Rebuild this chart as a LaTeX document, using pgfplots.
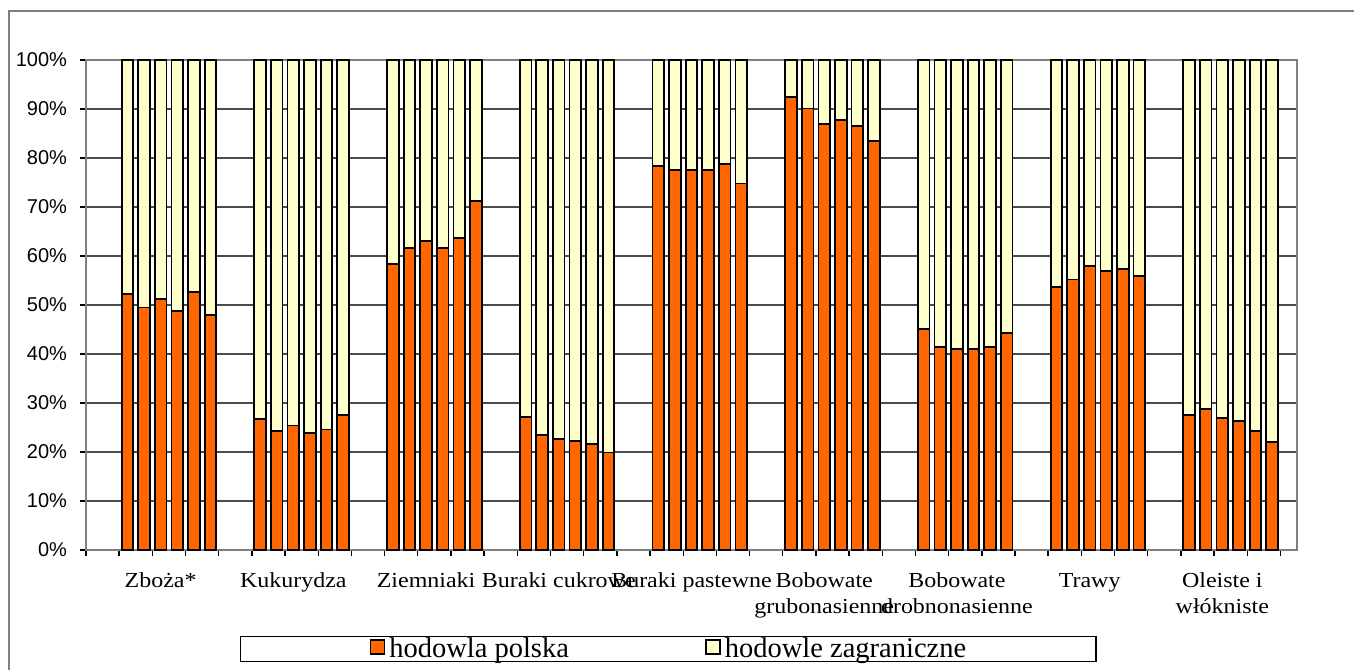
\documentclass[border=0pt]{standalone}
\usepackage{fontspec}
\setmainfont{Liberation Sans}
\newfontfamily\catfont[FakeStretch=1.12]{Liberation Serif}
\newfontfamily\legfont{Liberation Serif}
\usepackage{pgfplots}
\pgfplotsset{compat=1.18}
\usepackage{pgfplotstable}
\definecolor{pl}{HTML}{FF6600}
\definecolor{zg}{HTML}{FFFFCC}
\pgfplotsset{
  legpad/.style={legend image code/.code={\path (-64.5pt,0pt); \draw[##1, line width=0.8pt] (0pt,-2.5pt) rectangle (7pt,4.5pt);}},
  legsq/.style={legend image code/.code={\draw[##1, line width=0.8pt] (0pt,-2.5pt) rectangle (7pt,4.5pt);}},
}

\pgfplotstableread{
x pol zag
2.5 52.2 47.8
3.5 49.5 50.5
4.5 51.2 48.8
5.5 48.8 51.2
6.5 52.6 47.4
7.5 47.9 52.1
10.5 26.7 73.3
11.5 24.3 75.7
12.5 25.4 74.6
13.5 23.8 76.2
14.5 24.6 75.4
15.5 27.6 72.4
18.5 58.3 41.7
19.5 61.6 38.4
20.5 63.1 36.9
21.5 61.7 38.3
22.5 63.7 36.3
23.5 71.3 28.7
26.5 27.2 72.8
27.5 23.4 76.6
28.5 22.7 77.3
29.5 22.3 77.7
30.5 21.6 78.4
31.5 19.9 80.1
34.5 78.4 21.6
35.5 77.6 22.4
36.5 77.6 22.4
37.5 77.6 22.4
38.5 78.8 21.2
39.5 74.8 25.2
42.5 92.4 7.6
43.5 90.1 9.9
44.5 86.9 13.1
45.5 87.8 12.2
46.5 86.5 13.5
47.5 83.5 16.5
50.5 45.1 54.9
51.5 41.5 58.5
52.5 41.0 59.0
53.5 41.0 59.0
54.5 41.5 58.5
55.5 44.3 55.7
58.5 53.6 46.4
59.5 55.2 44.8
60.5 58.0 42.0
61.5 56.9 43.1
62.5 57.3 42.7
63.5 55.9 44.1
66.5 27.6 72.4
67.5 28.8 71.2
68.5 26.9 73.1
69.5 26.4 73.6
70.5 24.3 75.7
71.5 22.1 77.9
}\data

\begin{document}
\begin{tikzpicture}
\path[use as bounding box] (0,0) rectangle (677pt,335pt);
\draw[black!50, line width=1pt] (4.5pt,0) -- (4.5pt,329.5pt) -- (677pt,329.5pt);
\begin{axis}[
  at={(43pt,60pt)}, anchor=south west,
  scale only axis, width=605.5pt, height=245pt,
  xmin=0, xmax=73, ymin=0, ymax=100,
  ybar stacked, bar width=0.7,
  axis line style={black!50, line width=1pt},
  ytick={0,10,...,100},
  yticklabel={\pgfmathprintnumber{\tick}\%},
  /pgf/number format/assume math mode=true,
  yticklabel style={font=\fontsize{10}{12}\selectfont, xshift=-3pt},
  ymajorgrids, grid style={black!70, line width=0.7pt},
  major tick length=3pt, tick align=outside,
  tick style={black, line width=0.7pt},
  xtick pos=bottom, ytick pos=left,
  xtick={0,2,...,72}, xticklabels={},
  extra x ticks={4.5,12.5,20.5,28.5,36.5,44.5,52.5,60.5,68.5},
  extra x tick labels={Zboża*,Kukurydza,Ziemniaki,Buraki cukrowe,Buraki pastewne,{Bobowate\\grubonasienne},{Bobowate\\drobnonasienne},Trawy,{Oleiste i\\włókniste}},
  extra x tick style={major tick length=0pt, tick label style={font=\fontsize{10.7}{12.6}\catfont, align=center, anchor=north, yshift=-8pt}},
  legend columns=2,
  legend style={at={(axis description cs:0,0)}, anchor=north west, xshift=77pt, yshift=-43pt,
    draw=black, line width=0.6pt, inner xsep=0pt, inner ysep=0.6pt,
    font=\fontsize{14.25}{15}\legfont,
    nodes={inner sep=0pt},
    /tikz/every even column/.append style={column sep=0pt}},
  legend cell align=left,
]
\addplot[fill=pl, draw=black, line width=0.9pt, legpad]
  table[x=x, y=pol] {\data};
\addlegendentry{\makebox[160pt][l]{\hspace{2pt}hodowla polska}}
\addplot[fill=zg, draw=black, line width=0.9pt, legsq]
  table[x=x, y=zag] {\data};
\addlegendentry{\makebox[187.5pt][l]{\hspace{2pt}hodowle zagraniczne}}
\end{axis}
\end{tikzpicture}
\end{document}
